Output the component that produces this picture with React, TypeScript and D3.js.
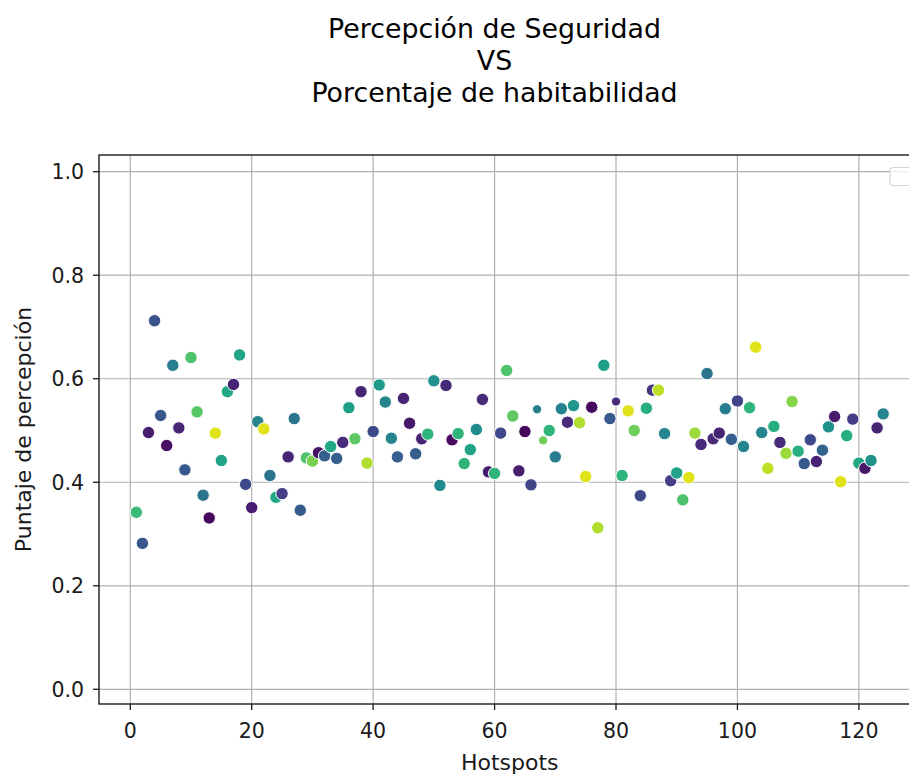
import React from 'react';
import * as d3 from 'd3';

// Hotspot index (x), perception score (y) and hue variable (habitability, 0..1 on viridis)
const hotspots = d3.range(1, 125);

const puntaje = [
  0.342, 0.282, 0.496, 0.712, 0.529, 0.471, 0.626, 0.505, 0.424, 0.641,
  0.536, 0.375, 0.331, 0.495, 0.442, 0.575, 0.589, 0.646, 0.396, 0.351,
  0.517, 0.503, 0.413, 0.371, 0.378, 0.449, 0.523, 0.346, 0.447, 0.441,
  0.457, 0.451, 0.469, 0.446, 0.477, 0.544, 0.484, 0.575, 0.437, 0.498,
  0.588, 0.555, 0.485, 0.449, 0.562, 0.514, 0.455, 0.484, 0.493, 0.596,
  0.394, 0.587, 0.482, 0.494, 0.436, 0.463, 0.502, 0.560, 0.420, 0.417,
  0.495, 0.616, 0.528, 0.422, 0.498, 0.395, 0.541, 0.481, 0.500, 0.449,
  0.542, 0.516, 0.548, 0.515, 0.411, 0.545, 0.312, 0.626, 0.523, 0.556,
  0.413, 0.538, 0.500, 0.374, 0.543, 0.578, 0.578, 0.494, 0.403, 0.418,
  0.366, 0.409, 0.495, 0.473, 0.610, 0.484, 0.495, 0.542, 0.483, 0.557,
  0.469, 0.544, 0.661, 0.496, 0.427, 0.508, 0.477, 0.456, 0.556, 0.460,
  0.436, 0.482, 0.440, 0.462, 0.507, 0.527, 0.401, 0.490, 0.522, 0.437,
  0.427, 0.442, 0.505, 0.532,
];

const habitabilidad = [
  0.68, 0.27, 0.08, 0.25, 0.27, 0.04, 0.42, 0.10, 0.28, 0.72,
  0.74, 0.38, 0.02, 0.95, 0.58, 0.60, 0.10, 0.58, 0.22, 0.08,
  0.45, 0.95, 0.38, 0.60, 0.18, 0.10, 0.38, 0.28, 0.72, 0.80,
  0.05, 0.30, 0.60, 0.30, 0.12, 0.56, 0.75, 0.10, 0.88, 0.22,
  0.55, 0.45, 0.45, 0.30, 0.10, 0.06, 0.30, 0.10, 0.65, 0.50,
  0.48, 0.12, 0.03, 0.65, 0.65, 0.58, 0.48, 0.12, 0.08, 0.65,
  0.22, 0.72, 0.75, 0.08, 0.02, 0.20, 0.42, 0.78, 0.65, 0.42,
  0.45, 0.12, 0.52, 0.88, 0.95, 0.02, 0.88, 0.56, 0.28, 0.12,
  0.65, 0.95, 0.78, 0.22, 0.62, 0.15, 0.90, 0.45, 0.18, 0.58,
  0.72, 0.95, 0.85, 0.12, 0.38, 0.12, 0.10, 0.42, 0.30, 0.20,
  0.45, 0.65, 0.95, 0.45, 0.90, 0.62, 0.12, 0.85, 0.82, 0.63,
  0.28, 0.22, 0.10, 0.32, 0.50, 0.08, 0.95, 0.62, 0.18, 0.60,
  0.06, 0.50, 0.10, 0.45,
];

// hotspots drawn with a smaller marker
const smallHotspots = [67, 68, 80];

const xTicks = [0, 20, 40, 60, 80, 100, 120];
const yTicks = [0.0, 0.2, 0.4, 0.6, 0.8, 1.0];
const titleLines = ['Percepción de Seguridad', 'VS', 'Porcentaje de habitabilidad'];

const W = 909;
const H = 777;
const plot = { left: 99, right: 920.5, top: 155, bottom: 704 };

export default function App() {
  const x = d3.scaleLinear().domain([-5.15, 130.15]).range([plot.left, plot.right]);
  const y = d3.scaleLinear().domain([0, 1]).range([689.3, 171.7]);
  const color = (v: number) => d3.interpolateViridis(v);
  const font = 'DejaVu Sans, sans-serif';
  const grid = '#b0b0b0';
  const ink = '#1a1a1a';

  return (
    <svg width={W} height={H} style={{ position: 'absolute', left: 0, top: 0, background: '#fff' }}
      fontFamily={font}>
      <rect width={W} height={H} fill="#fff" />

      {titleLines.map((t, i) => (
        <text key={t} x={494.5} y={38 + i * 31.8} textAnchor="middle" fontSize={26.8} fill="#000">{t}</text>
      ))}

      <clipPath id="plotclip">
        <rect x={plot.left} y={plot.top} width={plot.right - plot.left} height={plot.bottom - plot.top} />
      </clipPath>

      {/* grid */}
      <g stroke={grid} strokeWidth={1.2}>
        {xTicks.map(t => (
          <line key={'gx' + t} x1={x(t)} x2={x(t)} y1={plot.top} y2={plot.bottom} />
        ))}
        {yTicks.map(t => (
          <line key={'gy' + t} x1={plot.left} x2={plot.right} y1={y(t)} y2={y(t)} />
        ))}
      </g>

      {/* points */}
      <g clipPath="url(#plotclip)">
        {hotspots.map((h, i) => (
          <circle key={h} cx={x(h)} cy={y(puntaje[i])}
            r={smallHotspots.includes(h) ? 4.6 : 6.2}
            fill={color(habitabilidad[i])} stroke="#fff" strokeWidth={1} />
        ))}
      </g>

      {/* empty legend box */}
      <rect x={890} y={167.5} width={30} height={18} rx={3} fill="#fff" fillOpacity={0.8}
        stroke="#d6d6d6" strokeWidth={1.2} />

      {/* spines */}
      <rect x={plot.left} y={plot.top} width={plot.right - plot.left} height={plot.bottom - plot.top}
        fill="none" stroke={ink} strokeWidth={1.4} />

      {/* x axis */}
      {xTicks.map(t => (
        <g key={'xt' + t}>
          <line x1={x(t)} x2={x(t)} y1={plot.bottom} y2={plot.bottom + 6} stroke={ink} strokeWidth={1.3} />
          <text x={x(t)} y={738} textAnchor="middle" fontSize={20.5} fill={ink}>{t}</text>
        </g>
      ))}
      <text x={(plot.left + plot.right) / 2} y={770} textAnchor="middle" fontSize={22} fill={ink}>Hotspots</text>

      {/* y axis */}
      {yTicks.map(t => (
        <g key={'yt' + t}>
          <line x1={plot.left - 6} x2={plot.left} y1={y(t)} y2={y(t)} stroke={ink} strokeWidth={1.3} />
          <text x={84} y={y(t)} dy="0.36em" textAnchor="end" fontSize={20.5} fill={ink}>{t.toFixed(1)}</text>
        </g>
      ))}
      <text transform={`translate(31,${(plot.top + plot.bottom) / 2}) rotate(-90)`} textAnchor="middle"
        fontSize={22} fill={ink}>Puntaje de percepción</text>
    </svg>
  );
}
